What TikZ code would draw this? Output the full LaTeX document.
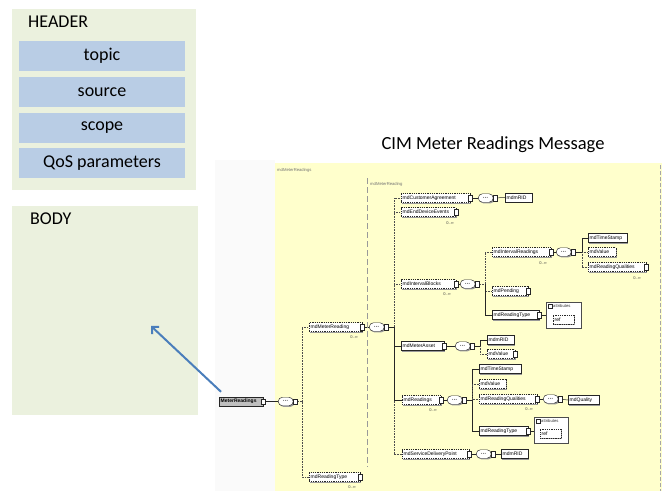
\documentclass[tikz,border=0pt]{standalone}
\usepackage{fontspec}
\setmainfont{Carlito}
\newfontfamily\schemafont{Liberation Sans}
\usetikzlibrary{arrows.meta,shadows,shapes.misc}
\pgfdeclarelayer{bg}
\pgfdeclarelayer{wires}
\pgfsetlayers{bg,wires,main}

\definecolor{panelgreen}{HTML}{EBF1DE}
\definecolor{fieldblue}{HTML}{B9CDE5}
\definecolor{schemayellow}{HTML}{FFFFCC}
\definecolor{arrowblue}{HTML}{4A7EBB}

\tikzset{
  panel/.style={fill=panelgreen, inner sep=0, anchor=north west},
  field/.style={fill=fieldblue, minimum width=166pt, minimum height=30pt, inner sep=0,
    font=\fontsize{18}{20}\selectfont},
  caption/.style={anchor=base west, inner sep=0, font=\fontsize{18}{20}\selectfont},
  shade/.style={drop shadow={shadow xshift=1.2pt, shadow yshift=-1.2pt, fill=black!40, opacity=1}},
  elem/.style={draw=black!85, fill=white, line width=0.45pt, anchor=west, minimum height=9pt,
    inner xsep=1.5pt, inner ysep=0.5pt, align=left, shade,
    font=\schemafont\fontsize{5}{6}\selectfont},
  opt/.style={elem, dash pattern=on 1pt off 0.8pt},
  rootelem/.style={elem, fill=black!25, font=\schemafont\bfseries\fontsize{5}{6}\selectfont},
  conn/.style={draw=black!85, fill=white, line width=0.4pt, minimum width=4pt,
    minimum height=5.5pt, inner sep=0},
  exp/.style={label={[conn, xshift=-2pt]east:{}}},
  seq/.style={draw=black!85, fill=white, line width=0.45pt, rounded rectangle, anchor=west,
    minimum width=16pt, minimum height=8.5pt, inner sep=0.5pt, shade,
    font=\schemafont\bfseries\fontsize{5}{5}\selectfont, label={[conn]east:{}}},
  occ/.style={font=\schemafont\fontsize{4}{4}\selectfont, text=black!75, inner sep=0},
  grouplbl/.style={anchor=west, font=\schemafont\fontsize{4.2}{5}\selectfont, text=black!55, inner sep=0},
  attrbox/.style={draw=black!70, fill=white, line width=0.45pt, anchor=north west, inner sep=0, shade},
  refbox/.style={opt, anchor=north west, text width=18pt, minimum height=9pt},
  reqwire/.style={draw=black!85, line width=0.5pt},
  optwire/.style={draw=black!70, line width=0.5pt, dash pattern=on 0.8pt off 0.8pt},
  groupline/.style={draw=black!40, line width=0.6pt, dash pattern=on 6pt off 3pt},
  bluearrow/.style={draw=arrowblue, line width=2pt, -{Straight Barb[length=5pt,width=10pt]}}
}

\begin{document}
\begin{tikzpicture}[x=1pt,y=-1pt]
\useasboundingbox (0,0) rectangle (665,491);

% ---------- message envelope ----------
\node[panel, minimum width=184pt, minimum height=181pt] (header) at (12,9) {};
\node[caption] (headerlbl) at (28,27) {HEADER};
\node[field] (topic)  at (102,56)    {topic};
\node[field] (source) at (102,92)    {source};
\node[field] (scope)  at (102,127.5) {scope};
\node[field] (qos)    at (102,163)   {QoS parameters};

\node[panel, minimum width=186pt, minimum height=209pt] (body) at (12,206) {};
\node[caption] (bodylbl) at (30,224) {BODY};

\node[font=\fontsize{18.5}{20}\selectfont, inner sep=0] (title) at (493,145) {CIM Meter Readings Message};

% ---------- schema canvas ----------
\begin{pgfonlayer}{bg}
  \node[fill=black!2, inner sep=0, anchor=north west, minimum width=60pt, minimum height=331pt] (margin) at (215,160) {};
  \node[fill=schemayellow, inner sep=0, anchor=north west, minimum width=387pt, minimum height=328pt] (canvas) at (275,163) {};
  \draw[groupline, draw=black!35, dash pattern=on 4pt off 2pt] (canvas.north east) ++(-2,2) coordinate (edgetop)
        -- (canvas.south east -| edgetop) coordinate (edgebot);
\end{pgfonlayer}

\node[grouplbl] (grpouter) at (277,170) {mdMeterReadings};
\node[grouplbl] (grpinner) at (370,184) {mdMeterReading};
\coordinate (gtop) at (367,178);
\coordinate (gbot) at (367,467);
\draw[groupline] (gtop) -- (gbot);

% root element and its sequence
\node[rootelem, exp, text width=41pt] (root) at (219,401.5) {MeterReadings};
\node[seq] (seq0) at (278,401.5) {···};
\coordinate (b0) at (302,401.5);

\node[opt, exp, text width=50pt] (mmr) at (309,327) {mdMeterReading};
\node[occ] (o-mmr) at (354,337) {0..∞};
\node[opt, exp, text width=48pt] (mrt0) at (309,477) {mdReadingType};
\node[occ] (o-mrt0) at (352,487) {0..∞};

% MeterReading sequence
\node[seq] (seq1) at (369,327) {···};
\coordinate (b1) at (394,327);

\node[opt, exp, text width=66pt] (mca) at (401,198) {mdCustomerAgreement};
\node[seq] (seqA) at (478,198) {···};
\node[elem, text width=24pt] (ridA) at (505,197.5) {mdmRID};

\node[opt, exp, text width=52pt] (med) at (401,212) {mdEndDeviceEvents};
\node[occ] (o-med) at (450,223) {0..∞};

\node[opt, exp, text width=52pt] (mib) at (401,284) {mdIntervalBlocks};
\node[occ] (o-mib) at (447,294) {0..∞};
\node[seq] (seq2) at (460,284) {···};
\coordinate (b2) at (485,284);

\node[opt, exp, text width=56pt] (mir) at (492,252) {mdIntervalReadings};
\node[occ] (o-mir) at (543,263) {0..∞};
\node[seq] (seq3) at (556,252) {···};
\coordinate (b3) at (582,252);
\node[elem, text width=36pt] (ts1) at (588,238) {mdTimeStamp};
\node[opt, text width=25pt] (val1) at (588,252) {mdValue};
\node[opt, exp, text width=55pt] (rq1) at (588,267) {mdReadingQualities};
\node[occ] (o-rq1) at (637,278) {0..∞};

\node[opt, exp, text width=33pt] (pend) at (492,291) {mdPending};
\node[elem, exp, text width=44pt] (rt1) at (492,315) {mdReadingType};
\node[attrbox, minimum width=35pt, minimum height=26pt] (attA) at (546,302) {};
\node[conn, minimum height=4pt, anchor=north west] (attAx) at (548,304) {};
\node[grouplbl, text=black!80] (attAt) at (553,306) {attributes};
\node[refbox] (refA) at (553,314.5) {ref};

\node[elem, exp, text width=40pt] (mma) at (401,346) {mdMeterAsset};
\node[seq] (seq4) at (455,346) {···};
\coordinate (b4) at (480,346);
\node[elem, text width=24pt] (rid4) at (487,340) {mdmRID};
\node[opt, exp, text width=25pt] (val4) at (487,354) {mdValue};

\node[opt, exp, text width=36pt] (mrd) at (402,400) {mdReadings};
\node[occ] (o-mrd) at (433,410) {0..∞};
\node[seq] (seq5) at (447,400) {···};
\coordinate (b5) at (472,400);
\node[elem, text width=39pt] (ts2) at (479,369) {mdTimeStamp};
\node[opt, text width=24pt] (val2) at (479,384) {mdValue};
\node[opt, exp, text width=55pt] (rq2) at (479,399) {mdReadingQualities};
\node[occ] (o-rq2) at (529,409) {0..∞};
\node[seq] (seq6) at (543,399) {···};
\node[elem, text width=28pt] (qual) at (568,400) {mdQuality};
\node[elem, exp, text width=46pt] (rt2) at (479,431) {mdReadingType};
\node[attrbox, minimum width=34pt, minimum height=26pt] (attB) at (534,417) {};
\node[conn, minimum height=4pt, anchor=north west] (attBx) at (536,419) {};
\node[grouplbl, text=black!80] (attBt) at (541,421) {attributes};
\node[refbox] (refB) at (540,429) {ref};

\node[opt, exp, text width=64pt] (sdp) at (402,454) {mdServiceDeliveryPoint};
\node[seq] (seq7) at (476,454) {···};
\node[elem, text width=24pt] (rid7) at (501,454) {mdmRID};

% ---------- connectors ----------
\begin{pgfonlayer}{wires}
  \draw[reqwire] (root.east) -- (seq0.west);
  \draw[optwire] (seq0.east) -- (b0) |- (mmr.west);
  \draw[optwire] (b0) |- (mrt0.west);

  \draw[reqwire] (mmr.east) -- (seq1.west);
  \draw[optwire] (seq1.east) -- (b1) |- (mca.west);
  \draw[optwire] (b1) |- (med.west);
  \draw[optwire] (b1) |- (mib.west);
  \draw[optwire] (b1) |- (sdp.west);
  \draw[reqwire] (b1) |- (mrd.west);
  \draw[reqwire] (seq1.east) -- (b1) |- (mma.west);

  \draw[reqwire] (mca.east) -- (seqA.west);
  \draw[reqwire] (seqA.east) -- (ridA.west);

  \draw[reqwire] (mib.east) -- (seq2.west);
  \draw[optwire] (seq2.east) -- (b2) |- (mir.west);
  \draw[optwire] (b2) |- (pend.west);
  \draw[reqwire] (b2) |- (rt1.west);

  \draw[reqwire] (mir.east) -- (seq3.west);
  \draw[reqwire] (seq3.east) -- (b3) |- (ts1.west);
  \draw[optwire] (b3) |- (val1.west);
  \draw[optwire] (b3) |- (rq1.west);

  \draw[reqwire] (rt1.east) -- (rt1.east -| attA.west);

  \draw[reqwire] (mma.east) -- (seq4.west);
  \draw[reqwire] (seq4.east) -- (b4) |- (rid4.west);
  \draw[optwire] (b4) |- (val4.west);

  \draw[reqwire] (mrd.east) -- (seq5.west);
  \draw[reqwire] (seq5.east) -- (b5) |- (ts2.west);
  \draw[reqwire] (b5) |- (rt2.west);
  \draw[optwire] (b5) |- (val2.west);
  \draw[optwire] (b5) |- (rq2.west);
  \draw[reqwire] (rq2.east) -- (seq6.west);
  \draw[reqwire] (seq6.east) -- (qual.west);
  \draw[reqwire] (rt2.east) -- (rt2.east -| attB.west);

  \draw[reqwire] (sdp.east) -- (seq7.west);
  \draw[reqwire] (seq7.east) -- (rid7.west);
\end{pgfonlayer}

% the schema root is what travels in the message body
\coordinate (bodytip) at (151,326);
\draw[bluearrow] ([xshift=2pt,yshift=5pt]root.north west) -- (bodytip);
\end{tikzpicture}
\end{document}
